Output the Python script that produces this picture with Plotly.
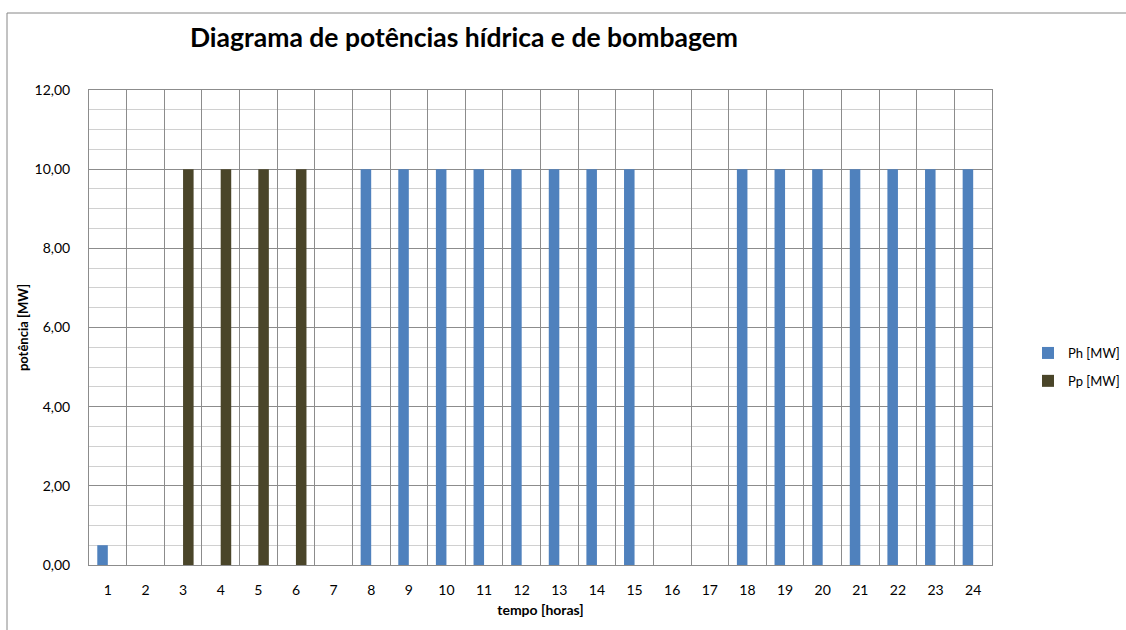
import plotly.graph_objects as go

hours = [str(h) for h in range(1, 25)]
ph = [0.5, 0, 0, 0, 0, 0, 0, 10, 10, 10, 10, 10, 10, 10, 10, 0, 0, 10, 10, 10, 10, 10, 10, 10]
pp = [0, 0, 10, 10, 10, 10, 0, 0, 0, 0, 0, 0, 0, 0, 0, 0, 0, 0, 0, 0, 0, 0, 0, 0]
y_ticks = [0, 2, 4, 6, 8, 10, 12]

FONT = "Lato, 'Open Sans', sans-serif"

fig = go.Figure()
fig.add_trace(go.Bar(x=hours, y=ph, name="Ph [MW]", marker=dict(color="#4F81BD", line=dict(width=0)),
                     legendgroup="a"))
fig.add_trace(go.Bar(x=hours, y=pp, name="Pp [MW]", marker=dict(color="#4A4529", line=dict(width=0)),
                     legendgroup="b"))

L, R, T, B = 89, 134, 90, 65
W, H = 1126, 630
pw, ph_ = W - L - R, H - T - B

fig.update_layout(
    width=W, height=H,
    margin=dict(l=L, r=R, t=T, b=B, autoexpand=False),
    paper_bgcolor="white", plot_bgcolor="white",
    separators=",.",
    barmode="group", bargap=0.44, bargroupgap=0,
    font=dict(family=FONT, size=14, color="#000000"),
    title=dict(text="<b>Diagrama de potências hídrica e de bombagem</b>",
               font=dict(family=FONT, size=26.5, color="#000000"),
               x=464 / W, xanchor="center", y=1 - 38 / H, yanchor="middle"),
    legend=dict(x=(1028 - L) / pw, xanchor="left", y=(H - B - 367) / ph_, yanchor="middle",
                font=dict(family=FONT, size=13), tracegroupgap=8, traceorder="grouped",
                itemwidth=30, bgcolor="rgba(0,0,0,0)"),
    xaxis=dict(type="category", tickson="boundaries", showgrid=True, gridcolor="#8c8c8c", gridwidth=1,
               showline=True, linecolor="#8c8c8c", mirror=True, ticks="", ticklabelstandoff=12,
               tickfont=dict(family=FONT, size=14),
               title=dict(text="<b>tempo [horas]</b>", font=dict(family=FONT, size=14), standoff=8)),
    yaxis=dict(range=[0, 12], tickvals=y_ticks, tickformat=".2f", showgrid=True, gridcolor="#8c8c8c",
               gridwidth=1, showline=True, linecolor="#8c8c8c", mirror=True, zeroline=False,
               ticks="", ticklabelstandoff=15, tickfont=dict(family=FONT, size=14),
               minor=dict(dtick=0.5, tick0=0, showgrid=True, gridcolor="#d0d0d0", gridwidth=1),
               title=dict(text="<b>potência [MW]</b>", font=dict(family=FONT, size=13), standoff=2)),
    shapes=[dict(type="rect", xref="paper", yref="paper",
                 x0=(7 - L) / pw, x1=2.0, y0=-1.0, y1=(H - B - 13) / ph_,
                 line=dict(color="#868686", width=1), fillcolor="rgba(0,0,0,0)", layer="below")],
)

fig.write_html("out.html", config={"displayModeBar": False},
               post_script="document.body.style.margin='0';document.body.style.overflow='hidden';")
